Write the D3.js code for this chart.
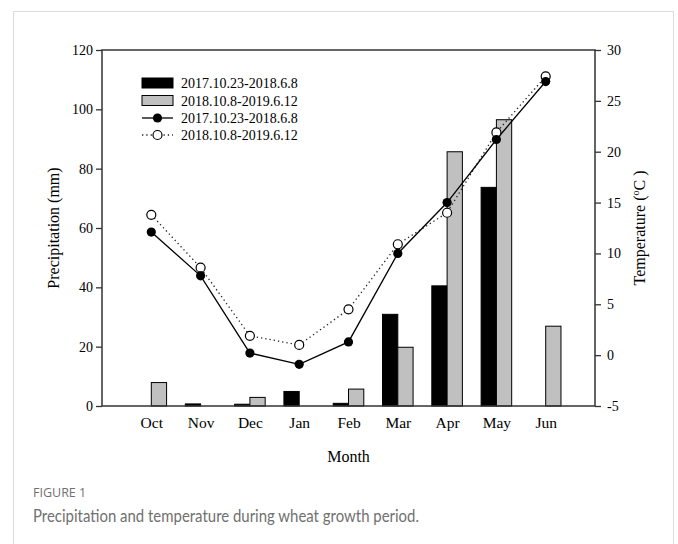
<!DOCTYPE html>
<html>
<head>
<meta charset="utf-8">
<script src="https://cdn.jsdelivr.net/npm/d3@7"></script>
<style>
  html, body { margin: 0; padding: 0; background: #fff; }
  svg { display: block; }
</style>
</head>
<body>
<svg id="chart" width="678" height="544"></svg>
<script>
// Monthly data over the two wheat seasons
const months = ["Oct", "Nov", "Dec", "Jan", "Feb", "Mar", "Apr", "May", "Jun"];
const seasonA = "2017.10.23-2018.6.8";
const seasonB = "2018.10.8-2019.6.12";
// Precipitation (mm); null = no rainfall recorded
const precipA = [null, 0.7, 0.6, 4.9, 0.9, 30.9, 40.5, 73.7, null];
const precipB = [7.9, null, 2.9, null, 5.7, 19.8, 85.7, 96.5, 26.9];
// Mean temperature (°C)
const tempA = [12.1, 7.8, 0.2, -0.9, 1.3, 10.0, 15.0, 21.2, 26.9];
const tempB = [13.8, 8.6, 1.9, 1.0, 4.5, 10.9, 14.0, 21.9, 27.4];
const precipTicks = [0, 20, 40, 60, 80, 100, 120];
const tempTicks = [-5, 0, 5, 10, 15, 20, 25, 30];

const svg = d3.select("#chart");
const serif = "'Liberation Serif', 'Times New Roman', serif";

// Card outline
svg.append("rect")
  .attr("x", 13.5).attr("y", 11.5)
  .attr("width", 660).attr("height", 560)
  .attr("fill", "#fff").attr("stroke", "#dcdcdc").attr("stroke-width", 1);

const L = 102, R = 595, T = 50, B = 406;
const x = d3.scaleLinear().domain([0, months.length + 1]).range([L, R]);
const yP = d3.scaleLinear().domain([0, 120]).range([B, T]);
const yT = d3.scaleLinear().domain([-5, 30]).range([B, T]);
const barW = (x(1) - x(0)) * 0.31;

const axisColor = "#333";

// Bars
const gBars = svg.append("g");
gBars.selectAll("rect.a")
  .data(precipA.map((v, i) => ({v, i})).filter(d => d.v != null))
  .join("rect")
  .attr("x", d => x(d.i + 1) - barW)
  .attr("y", d => yP(d.v))
  .attr("width", barW)
  .attr("height", d => yP(0) - yP(d.v))
  .attr("fill", "#000").attr("stroke", "#000").attr("stroke-width", 1);
gBars.selectAll("rect.b")
  .data(precipB.map((v, i) => ({v, i})).filter(d => d.v != null))
  .join("rect")
  .attr("x", d => x(d.i + 1))
  .attr("y", d => yP(d.v))
  .attr("width", barW)
  .attr("height", d => yP(0) - yP(d.v))
  .attr("fill", "#c0c0c0").attr("stroke", "#000").attr("stroke-width", 1);

// Temperature lines
const line = d3.line().x((d, i) => x(i + 1)).y(d => yT(d));
svg.append("path").datum(tempB).attr("d", line)
  .attr("fill", "none").attr("stroke", "#222").attr("stroke-width", 1.3)
  .attr("stroke-dasharray", "1.3,3");
svg.append("path").datum(tempA).attr("d", line)
  .attr("fill", "none").attr("stroke", "#000").attr("stroke-width", 1.3);

svg.append("g").selectAll("circle")
  .data(tempB).join("circle")
  .attr("cx", (d, i) => x(i + 1)).attr("cy", d => yT(d)).attr("r", 4.5)
  .attr("fill", "#fff").attr("stroke", "#000").attr("stroke-width", 1.2);
svg.append("g").selectAll("circle")
  .data(tempA).join("circle")
  .attr("cx", (d, i) => x(i + 1)).attr("cy", d => yT(d)).attr("r", 4.6)
  .attr("fill", "#000");

// Frame
svg.append("rect").attr("x", L).attr("y", T)
  .attr("width", R - L).attr("height", B - T)
  .attr("fill", "none").attr("stroke", axisColor).attr("stroke-width", 1.5);

// Axes
function styleAxis(g) {
  g.select(".domain").remove();
  g.selectAll(".tick line").attr("stroke", axisColor).attr("stroke-width", 1.3);
  g.selectAll(".tick text").attr("font-family", serif).attr("font-size", 14).attr("fill", "#000");
}
svg.append("g").attr("transform", `translate(${L},0)`)
  .call(d3.axisLeft(yP).tickValues(precipTicks).tickSize(6).tickPadding(3))
  .call(styleAxis);
svg.append("g").attr("transform", `translate(${R},0)`)
  .call(d3.axisRight(yT).tickValues(tempTicks).tickSize(6).tickPadding(6)
    .tickFormat(d => String(d)))
  .call(styleAxis);
svg.append("g").attr("transform", `translate(0,${B})`)
  .call(d3.axisBottom(x).tickValues(months.map((m, i) => i + 1))
    .tickFormat((d) => months[d - 1]).tickSize(0).tickPadding(11))
  .call(styleAxis)
  .call(g => g.selectAll(".tick text").attr("font-size", 15.5));

// Axis titles
svg.append("text").attr("transform", `translate(59,${(T + B) / 2}) rotate(-90)`)
  .attr("text-anchor", "middle").attr("font-family", serif).attr("font-size", 16)
  .text("Precipitation (mm)");
const tt = svg.append("text").attr("transform", `translate(645,${(T + B) / 2}) rotate(-90)`)
  .attr("text-anchor", "middle").attr("font-family", serif).attr("font-size", 16);
tt.append("tspan").text("Temperature (");
tt.append("tspan").attr("font-size", 10).attr("dy", -6).text("o");
tt.append("tspan").attr("dy", 6).text("C )");
svg.append("text").attr("x", (L + R) / 2).attr("y", 462)
  .attr("text-anchor", "middle").attr("font-family", serif).attr("font-size", 16)
  .text("Month");

// Legend
const lg = svg.append("g").attr("font-family", serif).attr("font-size", 14);
const rowY = [83, 100.5, 118, 135];
const labels = [seasonA, seasonB, seasonA, seasonB];
lg.append("rect").attr("x", 142).attr("y", rowY[0] - 5).attr("width", 31).attr("height", 10)
  .attr("fill", "#000").attr("stroke", "#000");
lg.append("rect").attr("x", 142).attr("y", rowY[1] - 5).attr("width", 31).attr("height", 10)
  .attr("fill", "#c0c0c0").attr("stroke", "#000");
lg.append("line").attr("x1", 142).attr("x2", 173).attr("y1", rowY[2]).attr("y2", rowY[2])
  .attr("stroke", "#000").attr("stroke-width", 1.3);
lg.append("circle").attr("cx", 157.5).attr("cy", rowY[2]).attr("r", 4.6).attr("fill", "#000");
lg.append("line").attr("x1", 142).attr("x2", 173).attr("y1", rowY[3]).attr("y2", rowY[3])
  .attr("stroke", "#222").attr("stroke-width", 1.3).attr("stroke-dasharray", "1.3,3");
lg.append("circle").attr("cx", 157.5).attr("cy", rowY[3]).attr("r", 4.5)
  .attr("fill", "#fff").attr("stroke", "#000").attr("stroke-width", 1.2);
lg.selectAll("text.lab").data(labels).join("text")
  .attr("x", 181).attr("y", (d, i) => rowY[i] + 5).text(d => d);

// Caption
svg.append("text").attr("x", 33).attr("y", 497)
  .attr("font-family", "'Open Sans', 'Noto Sans', sans-serif").attr("font-size", 12.5)
  .attr("fill", "#707070").text("FIGURE 1");
svg.append("text").attr("x", 33).attr("y", 522)
  .attr("font-family", "Lato, 'Open Sans', sans-serif").attr("font-size", 17.5)
  .attr("fill", "#707070").attr("textLength", 386).attr("lengthAdjust", "spacingAndGlyphs")
  .text("Precipitation and temperature during wheat growth period.");
</script>
</body>
</html>
